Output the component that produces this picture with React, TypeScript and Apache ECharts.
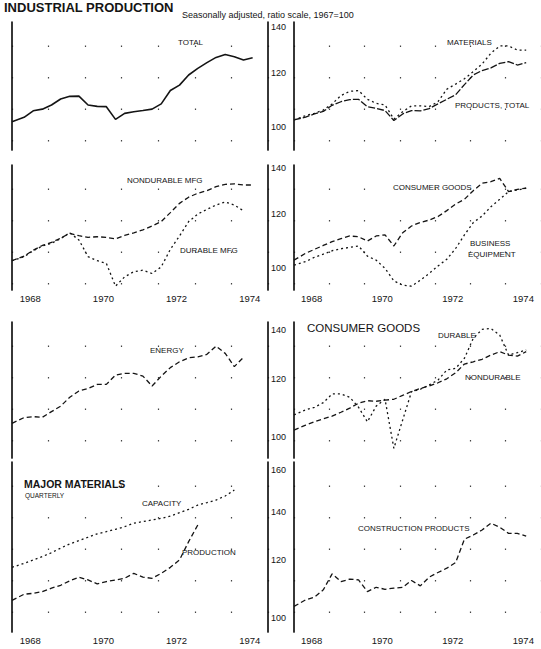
import React, { useEffect, useRef } from "react";
import * as echarts from "echarts";

// Decimal-year sampling dates (Jan 1968, then Feb/May/Aug/Nov of each year)
const times = [1968.0, 1968.33, 1968.58, 1968.83, 1969.08, 1969.33, 1969.58, 1969.83, 1970.08, 1970.33, 1970.58, 1970.83, 1971.08, 1971.33, 1971.58, 1971.83, 1972.08, 1972.33, 1972.58, 1972.83, 1973.08, 1973.33, 1973.58, 1973.83, 1974.08, 1974.33, 1974.58];
const yearLabels = ["1968", "1969", "1970", "1971", "1972", "1973", "1974"];
const ticksLow = [100, 120, 140];
const ticksHigh = [100, 120, 140, 160];

// Index values, 1967 = 100
const total = [101.8, 103.3, 105.6, 106.2, 107.7, 109.9, 110.9, 111.0, 107.7, 107.2, 107.1, 102.6, 104.7, 105.3, 105.7, 106.2, 108.1, 113.1, 115.2, 119.2, 121.9, 124.3, 126.5, 127.8, 126.8, 125.4, 126.4];
const materials = [102.4, 103.9, 104.7, 105.9, 108.1, 111.2, 112.8, 113.1, 109.8, 108.3, 107.7, 102.7, 105.3, 107.4, 107.4, 107.1, 108.9, 113.6, 115.6, 117.7, 120.6, 123.7, 128.3, 131.5, 131.5, 129.7, 129.7];
const productsTotal = [102.4, 103.4, 104.5, 105.4, 107.6, 108.9, 109.7, 109.8, 107.1, 106.5, 105.7, 102.2, 104.5, 105.7, 105.6, 106.4, 108.1, 109.8, 111.5, 115.4, 119.2, 121.0, 122.1, 124.0, 124.7, 123.3, 124.3];
const nondurableMfg = [102.5, 104.1, 106.2, 107.9, 109.0, 110.6, 112.4, 111.5, 110.9, 111.1, 110.9, 110.3, 111.6, 112.6, 113.7, 115.2, 116.9, 120.5, 124.3, 126.9, 128.6, 129.7, 131.5, 132.5, 132.7, 132.2, 132.2];
const durableMfg = [102.5, 103.9, 106.0, 107.7, 108.7, 110.4, 112.6, 109.9, 103.9, 102.5, 101.6, 94.1, 97.1, 98.8, 99.3, 98.2, 100.4, 106.5, 111.4, 116.9, 119.9, 121.8, 123.6, 124.9, 123.6, 121.2, null];
const consumerGoods = [102.7, 105.1, 106.5, 107.9, 109.3, 110.4, 111.4, 111.1, 109.5, 111.4, 111.8, 107.7, 112.6, 115.2, 116.6, 117.5, 118.9, 121.3, 124.0, 126.0, 129.7, 133.0, 133.7, 135.2, 129.3, 130.3, 130.8];
const businessEquipment = [101.0, 102.2, 103.7, 104.8, 106.0, 106.7, 107.2, 107.7, 104.1, 102.7, 99.9, 95.8, 94.4, 94.1, 96.0, 98.2, 100.7, 103.0, 106.8, 111.8, 116.5, 119.1, 122.9, 126.0, 129.3, 130.0, 130.8];
const energy = [104.4, 106.3, 106.6, 106.4, 108.3, 110.2, 113.3, 115.6, 116.5, 118.0, 118.0, 121.5, 122.2, 122.2, 121.1, 117.4, 121.1, 124.4, 126.7, 128.3, 128.7, 129.7, 133.1, 130.1, 124.8, 128.5, null];
const consumerDurable = [107.2, 108.9, 109.8, 111.4, 114.5, 114.5, 113.3, 109.8, 104.9, 110.2, 112.6, 96.5, 105.5, 115.3, 116.2, 117.8, 119.6, 123.5, 124.1, 128.1, 136.4, 140.3, 140.7, 137.8, 129.4, 130.4, 131.5];
const consumerNondurable = [102.2, 103.8, 104.9, 105.9, 106.8, 108.1, 109.5, 111.2, 112.1, 111.9, 112.3, 112.6, 114.0, 115.4, 116.5, 117.4, 118.6, 120.1, 122.4, 125.8, 126.7, 127.7, 129.4, 130.8, 129.4, 129.0, 130.8];
const materialsCapacity = [117.4, 118.9, 120.2, 121.5, 123.0, 124.8, 126.5, 127.8, 129.2, 130.6, 131.5, 132.5, 133.6, 135.1, 135.8, 136.5, 137.2, 138.2, 139.7, 141.2, 143.1, 144.2, 145.4, 147.3, 150.1, null, null];
const materialsProduction = [105.7, 107.8, 108.1, 108.7, 109.9, 110.9, 112.5, 113.8, 112.8, 111.4, 112.2, 112.8, 113.4, 115.2, 113.8, 113.4, 115.2, 117.4, 120.2, 127.4, 134.3, null, null, null, null, null, null];
const constructionProducts = [103.7, 105.9, 106.8, 109.3, 115.0, 112.2, 113.1, 112.8, 108.7, 110.2, 109.5, 109.9, 110.2, 112.6, 110.7, 113.8, 115.5, 117.1, 119.2, 128.4, 130.1, 132.2, 135.1, 133.4, 130.8, 130.8, 129.7];

const FONT = "'Liberation Sans', Arial, Helvetica, sans-serif";
const INK = "#141414";

const SOLID = { width: 1.6, type: "solid" as any };
const SOLID_THIN = { width: 1.3, type: [7, 2] as any };
const DASH = { width: 1.3, type: [5, 3] as any };
const DOT = { width: 1.3, type: [2, 3] as any };

const rows = [
  { top: 22, bottom: 150, min: 92.5, max: 142.6, ticks: ticksLow, years: false },
  { top: 165, bottom: 290, min: 92.9, max: 141.4, ticks: ticksLow, years: true },
  { top: 322, bottom: 458, min: 93.6, max: 143.6, ticks: ticksLow, years: false },
  { top: 462, bottom: 632, min: 95.6, max: 164.1, ticks: ticksHigh, years: true },
];

const panels = [
  { row: 0, col: 0, lines: [{ data: total, ls: SOLID }] },
  { row: 0, col: 1, lines: [{ data: materials, ls: DOT }, { data: productsTotal, ls: SOLID_THIN }] },
  { row: 1, col: 0, lines: [{ data: nondurableMfg, ls: DASH }, { data: durableMfg, ls: DOT }] },
  { row: 1, col: 1, lines: [{ data: consumerGoods, ls: DASH }, { data: businessEquipment, ls: DOT }] },
  { row: 2, col: 0, lines: [{ data: energy, ls: DASH }] },
  { row: 2, col: 1, lines: [{ data: consumerDurable, ls: DOT }, { data: consumerNondurable, ls: DASH }] },
  { row: 3, col: 0, lines: [{ data: materialsCapacity, ls: DOT }, { data: materialsProduction, ls: DASH }] },
  { row: 3, col: 1, lines: [{ data: constructionProducts, ls: DASH }] },
];

const seriesLabels = [
  { text: "TOTAL", x: 178, y: 42 },
  { text: "MATERIALS", x: 447, y: 42 },
  { text: "PRODUCTS, TOTAL", x: 455, y: 105 },
  { text: "NONDURABLE MFG", x: 127, y: 180 },
  { text: "DURABLE MFG", x: 180, y: 250 },
  { text: "CONSUMER GOODS", x: 393, y: 187 },
  { text: "BUSINESS", x: 470, y: 243 },
  { text: "EQUIPMENT", x: 468, y: 254 },
  { text: "ENERGY", x: 150, y: 350 },
  { text: "DURABLE", x: 438, y: 335 },
  { text: "NONDURABLE", x: 465, y: 377 },
  { text: "CAPACITY", x: 142, y: 503 },
  { text: "PRODUCTION", x: 182, y: 552 },
  { text: "CONSTRUCTION PRODUCTS", x: 358, y: 528 },
];

function buildOption() {
  const grid: any[] = [];
  const xAxis: any[] = [];
  const yAxis: any[] = [];
  const series: any[] = [];
  const axisLineStyle = { color: INK, width: 1.7 };

  panels.forEach((p) => {
    const r = rows[p.row];
    const left = p.col === 0 ? 12 : 294;
    grid.push({ left, top: r.top, width: 256, height: r.bottom - r.top });
    const gi = grid.length - 1;

    const xi = xAxis.length;
    xAxis.push({
      type: "value",
      gridIndex: gi,
      position: "top",
      min: 1968,
      max: 1975,
      interval: 1,
      axisLine: { show: false },
      axisTick: { show: false },
      axisLabel: { show: false },
      splitLine: { show: true, lineStyle: { color: "#444", width: 1.2, type: [1.5, 30], dashOffset: 8 } },
    });
    if (r.years) {
      xAxis.push({
        type: "category",
        gridIndex: gi,
        position: "bottom",
        data: yearLabels,
        boundaryGap: true,
        axisLine: { show: false },
        axisTick: { show: false },
        splitLine: { show: false },
        axisLabel: { interval: 1, margin: 3, fontSize: 9.5, fontFamily: FONT, color: INK },
      });
    }

    const yi = yAxis.length;
    yAxis.push({
      type: "log",
      logBase: 10,
      gridIndex: gi,
      position: "left",
      min: r.min,
      max: r.max,
      axisLine: { show: true, onZero: false, lineStyle: axisLineStyle },
      axisTick: { show: false },
      axisLabel: { show: false },
      splitLine: { show: false },
    });
    if (p.col === 0) {
      yAxis.push({
        type: "log",
        logBase: 10,
        gridIndex: gi,
        position: "right",
        min: r.min,
        max: r.max,
        axisLine: { show: true, onZero: false, lineStyle: axisLineStyle },
        axisTick: { show: false },
        axisLabel: { show: false },
        splitLine: { show: false },
      });
    } else {
      yAxis.push({
        type: "value",
        gridIndex: gi,
        position: "left",
        min: Math.log(r.min),
        max: Math.log(r.max),
        axisLine: { show: false },
        axisTick: { show: false },
        splitLine: { show: false },
        axisLabel: {
          customValues: r.ticks.map((t) => Math.log(t)),
          formatter: (v: number) => String(Math.round(Math.exp(v))),
          margin: 8,
          fontSize: 9,
          fontFamily: FONT,
          color: INK,
        },
      });
    }

    p.lines.forEach((l) => {
      series.push({
        type: "line",
        xAxisIndex: xi,
        yAxisIndex: yi,
        data: times.map((t, i) => [t, l.data[i]]).filter((d) => d[1] != null),
        symbol: "none",
        showSymbol: false,
        silent: true,
        lineStyle: { color: INK, width: l.ls.width, type: l.ls.type, cap: "butt" },
      });
    });
  });

  const textEl = (text: string, x: number, y: number, fontSize: number, fontWeight = "normal") => ({
    type: "text",
    x,
    y,
    silent: true,
    style: { text, fontSize, fontWeight, fontFamily: FONT, fill: INK, verticalAlign: "middle", align: "left" },
  });

  const graphic: any[] = [
    textEl("INDUSTRIAL PRODUCTION", 4, 7, 13, "bold"),
    textEl("Seasonally adjusted, ratio scale, 1967=100", 182, 15, 9),
    textEl("CONSUMER GOODS", 307, 328, 11.5),
    textEl("MAJOR MATERIALS", 24, 484, 10.5, "bold"),
    textEl("QUARTERLY", 25, 495, 6.5),
    ...seriesLabels.map((l) => textEl(l.text, l.x, l.y, 8)),
  ];

  return {
    animation: false,
    backgroundColor: "#ffffff",
    grid,
    xAxis,
    yAxis,
    series,
    graphic,
  };
}

export default function App() {
  const ref = useRef<HTMLDivElement>(null);
  useEffect(() => {
    if (!ref.current) return;
    const chart = echarts.init(ref.current, null, { renderer: "svg", width: 541, height: 649 });
    chart.setOption(buildOption() as any);
    return () => chart.dispose();
  }, []);
  return (
    <div
      ref={ref}
      style={{ position: "absolute", left: 0, top: 0, width: 541, height: 649, background: "#fff" }}
    />
  );
}
